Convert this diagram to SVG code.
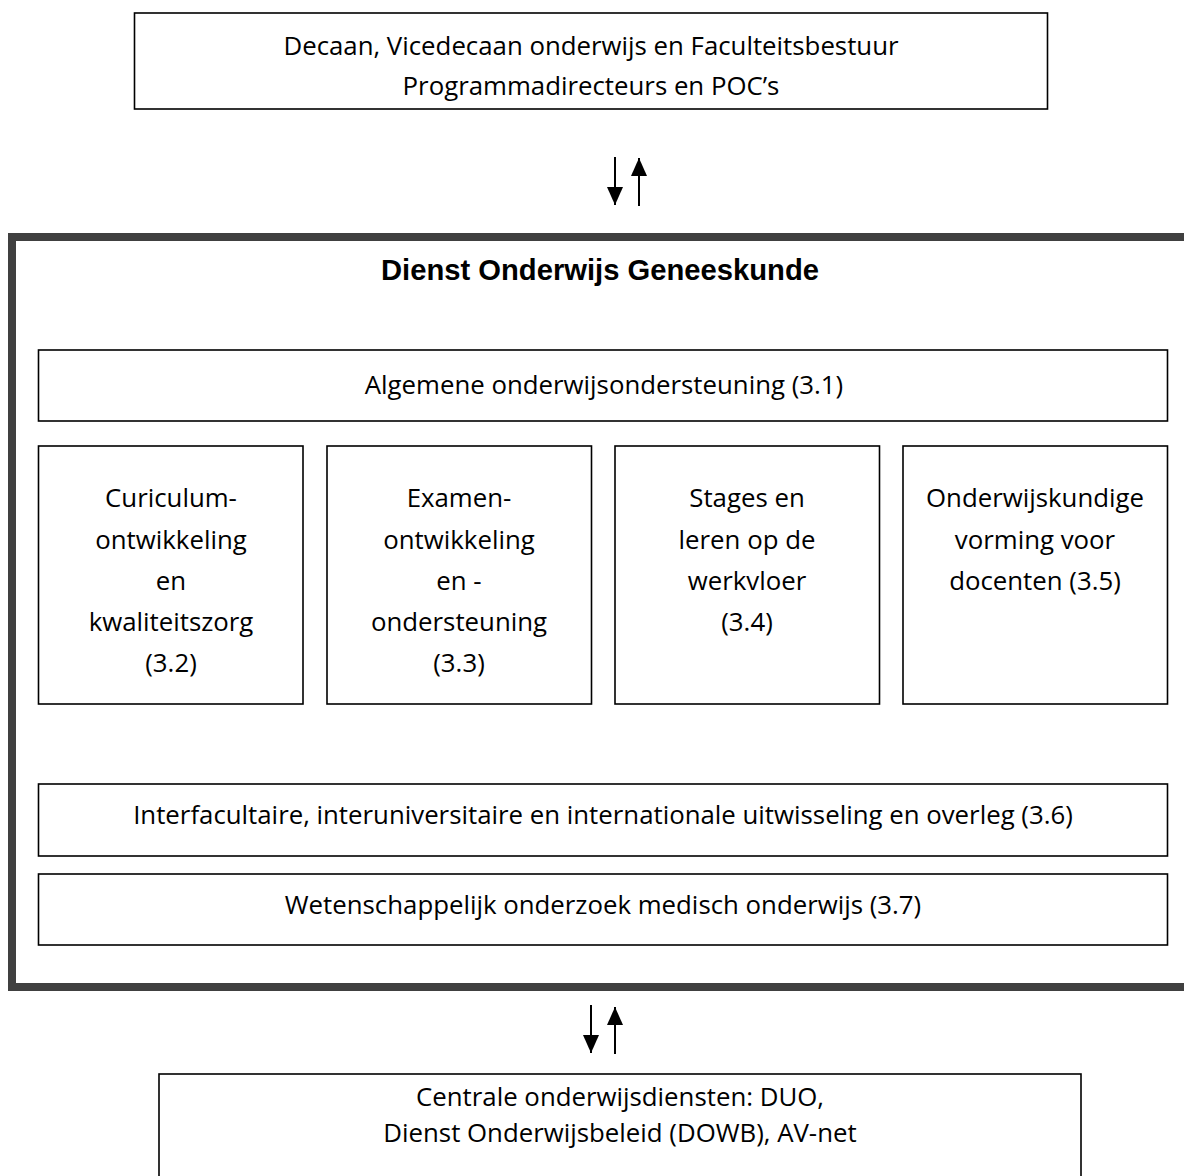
<svg xmlns="http://www.w3.org/2000/svg" width="1184" height="1176" viewBox="0 0 1184 1176">
<defs>
<marker id="ah" viewBox="0 0 18 16" refX="18" refY="8" markerWidth="18" markerHeight="16" markerUnits="userSpaceOnUse" orient="auto">
<path d="M0,0 L18,8 L0,16 Z" fill="#000"/>
</marker>
<style>
.box{fill:#fff;stroke:#000;stroke-width:1.6}
.t{font-family:"Open Sans","Liberation Sans",sans-serif;font-size:25.8px;fill:#000;text-anchor:middle}
.title{font-family:"Liberation Sans",Arial,sans-serif;font-size:29.2px;font-weight:bold;fill:#000;text-anchor:middle}
.arr{stroke:#000;stroke-width:2;fill:none}
</style>
</defs>
<rect width="1184" height="1176" fill="#fff"/>
<g id="top">
<rect class="box" x="134.5" y="13" width="913" height="96"/>
<text class="t" x="591" y="55">Decaan, Vicedecaan onderwijs en Faculteitsbestuur</text>
<text class="t" x="591" y="95">Programmadirecteurs en POC’s</text>
</g>
<g id="dienst">
<rect x="12" y="237" width="1190" height="750" fill="none" stroke="#404040" stroke-width="8"/>
<text class="title" x="600" y="280">Dienst Onderwijs Geneeskunde</text>
</g>
<g id="n31">
<rect class="box" x="38.5" y="350" width="1129" height="71"/>
<text class="t" x="604" y="394">Algemene onderwijsondersteuning (3.1)</text>
</g>
<g id="n32">
<rect class="box" x="38.5" y="446" width="264.5" height="258"/>
<text class="t" x="171" y="507">Curiculum-</text>
<text class="t" x="171" y="549">ontwikkeling</text>
<text class="t" x="171" y="590">en</text>
<text class="t" x="171" y="631">kwaliteitszorg</text>
<text class="t" x="171" y="672">(3.2)</text>
</g>
<g id="n33">
<rect class="box" x="327" y="446" width="264.5" height="258"/>
<text class="t" x="459" y="507">Examen-</text>
<text class="t" x="459" y="549">ontwikkeling</text>
<text class="t" x="459" y="590">en -</text>
<text class="t" x="459" y="631">ondersteuning</text>
<text class="t" x="459" y="672">(3.3)</text>
</g>
<g id="n34">
<rect class="box" x="615" y="446" width="264.5" height="258"/>
<text class="t" x="747" y="507">Stages en</text>
<text class="t" x="747" y="549">leren op de</text>
<text class="t" x="747" y="590">werkvloer</text>
<text class="t" x="747" y="631">(3.4)</text>
</g>
<g id="n35">
<rect class="box" x="903" y="446" width="264.5" height="258"/>
<text class="t" x="1035" y="507">Onderwijskundige</text>
<text class="t" x="1035" y="549">vorming voor</text>
<text class="t" x="1035" y="590">docenten (3.5)</text>
</g>
<g id="n36">
<rect class="box" x="38.5" y="784" width="1129" height="72"/>
<text class="t" x="603" y="824">Interfacultaire, interuniversitaire en internationale uitwisseling en overleg (3.6)</text>
</g>
<g id="n37">
<rect class="box" x="38.5" y="874" width="1129" height="71"/>
<text class="t" x="603" y="914">Wetenschappelijk onderzoek medisch onderwijs (3.7)</text>
</g>
<g id="bottom">
<rect class="box" x="159" y="1074" width="922" height="120"/>
<text class="t" x="620" y="1106">Centrale onderwijsdiensten: DUO,</text>
<text class="t" x="620" y="1142">Dienst Onderwijsbeleid (DOWB), AV-net</text>
</g>
<g id="connectors">
<line class="arr" x1="615" y1="157" x2="615" y2="205" marker-end="url(#ah)"/>
<line class="arr" x1="639" y1="206" x2="639" y2="158" marker-end="url(#ah)"/>
<line class="arr" x1="591" y1="1005" x2="591" y2="1053" marker-end="url(#ah)"/>
<line class="arr" x1="615" y1="1054" x2="615" y2="1007" marker-end="url(#ah)"/>
</g>
</svg>
